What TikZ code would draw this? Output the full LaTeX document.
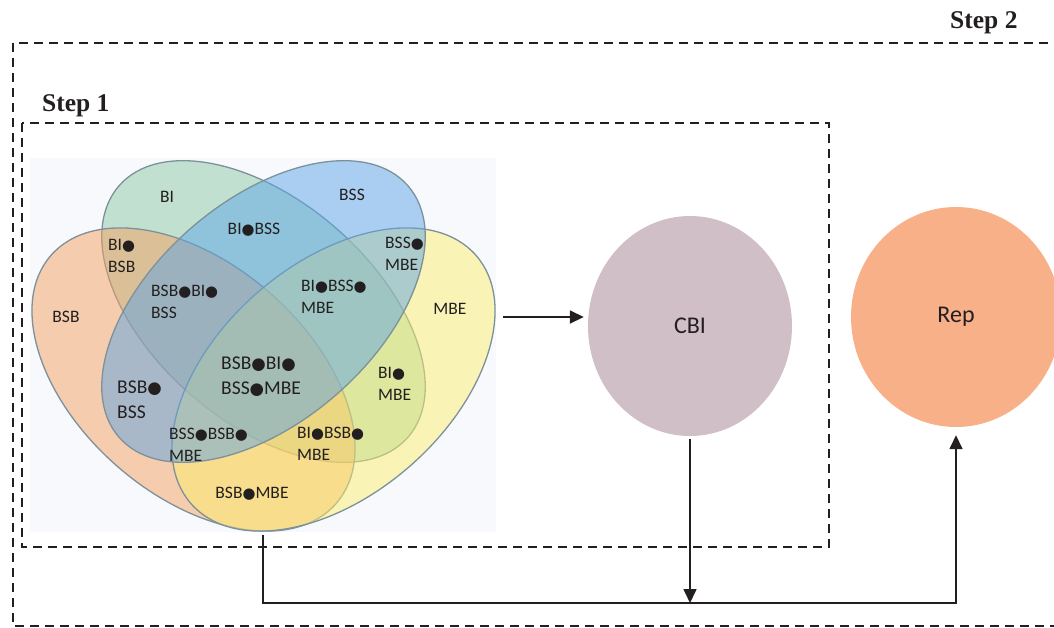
\documentclass[tikz,border=0pt]{standalone}
\usepackage{fontspec}
\setmainfont{Carlito}
\newfontfamily\stepfont{Liberation Serif}
\newfontfamily\dotfont{DejaVu Sans}
\usetikzlibrary{shapes.geometric,arrows.meta}

\definecolor{bicol}{RGB}{140,200,165}
\definecolor{bsbcol}{RGB}{245,160,95}
\definecolor{mbecol}{RGB}{252,238,110}
\definecolor{bsscol}{RGB}{95,165,230}
\definecolor{setline}{RGB}{125,145,155}
\definecolor{vennbg}{RGB}{247,249,253}
\definecolor{cbicol}{RGB}{209,191,199}
\definecolor{repcol}{RGB}{248,176,137}
\definecolor{txt}{RGB}{35,31,32}

\newcommand{\dt}{{\dotfont\scalebox{0.85}{●}}}

\begin{document}
\begin{tikzpicture}[x=1pt,y=-1pt,>={Triangle[length=14pt,width=13pt]},
  vset/.style={ellipse,draw=setline,line width=1.3pt,fill opacity=0.5,inner sep=0pt},
  lbl/.style={inner sep=0pt,align=left,text=txt,font=\fontsize{17.5}{22}\selectfont},
  biglbl/.style={lbl,font=\fontsize{19.5}{25}\selectfont},
  stepframe/.style={draw=txt,line width=1.8pt,dash pattern=on 9pt off 6pt},
  steplbl/.style={inner sep=0pt,anchor=base west,text=txt,font=\stepfont\bfseries\fontsize{25.5}{29}\selectfont},
  blob/.style={ellipse,inner sep=0pt,text=txt,font=\fontsize{24}{28}\selectfont},
  flow/.style={->,draw=txt,line width=1.6pt}]
  \useasboundingbox (0,0) rectangle (1054,627);

  % the two steps
  \draw[stepframe] (13,43) rectangle (1080,626);
  \draw[stepframe] (22,123) rectangle (829,547);
  \node[steplbl] (step2) at (950,28) {Step 2};
  \node[steplbl] (step1) at (42,111) {Step 1};

  % venn of the four indices
  \node[fill=vennbg,inner sep=0pt,minimum width=466pt,minimum height=374pt] (venn) at (263,345) {};
  \node[vset,fill=bicol,minimum width=383pt,minimum height=221pt,rotate=-41] (bi) at (263.5,311.5) {};
  \node[vset,fill=bsbcol,minimum width=378pt,minimum height=231pt,rotate=-41] (bsb) at (193.5,379.5) {};
  \node[vset,fill=mbecol,minimum width=378pt,minimum height=231pt,rotate=41] (mbe) at (333.5,379.5) {};
  \node[vset,fill=bsscol,minimum width=383pt,minimum height=221pt,rotate=41] (bss) at (263.5,311.5) {};

  \node[lbl] (lbi) at (167,197) {BI};
  \node[lbl] (lbss) at (352,195) {BSS};
  \node[lbl] (lbibss) at (254,230) {BI\dt BSS};
  \node[lbl,anchor=west] (lbibsb) at (108,256) {BI\dt\\BSB};
  \node[lbl,anchor=west] (lbssmbe) at (385,254) {BSS\dt\\MBE};
  \node[lbl] (lbsb) at (66,317) {BSB};
  \node[lbl] (lmbe) at (450,309) {MBE};
  \node[lbl,anchor=west] (lbsbbibss) at (151,302) {BSB\dt BI\dt\\BSS};
  \node[lbl,anchor=west] (lbibssmbe) at (301,297) {BI\dt BSS\dt\\MBE};
  \node[biglbl,anchor=west] (lall) at (221,377) {BSB\dt BI\dt\\BSS\dt MBE};
  \node[biglbl,anchor=west] (lbsbbss) at (117,400) {BSB\dt\\BSS};
  \node[lbl,anchor=west] (lbimbe) at (378,384) {BI\dt\\MBE};
  \node[lbl,anchor=west] (lbssbsbmbe) at (169,445) {BSS\dt BSB\dt\\MBE};
  \node[lbl,anchor=west] (lbibsbmbe) at (297,444) {BI\dt BSB\dt\\MBE};
  \node[lbl] (lbsbmbe) at (252,494) {BSB\dt MBE};

  % composite index and replication
  \node[blob,fill=cbicol,minimum width=204pt,minimum height=220pt] (cbi) at (690,326) {CBI};
  \node[blob,fill=repcol,minimum width=210pt,minimum height=220pt] (rep) at (956,317) {Rep};
  \coordinate (busR) at (rep.south |- 0,603);

  \draw[flow,shorten >=4pt] ([xshift=7pt,yshift=28pt]venn.east) -- ([yshift=9pt]cbi.west);
  \draw[flow] ([yshift=-3pt]cbi.south) -- (cbi.south |- busR);
  \draw[flow] ([yshift=-3pt]venn.south) |- (busR) -- ([yshift=-8pt]rep.south);
\end{tikzpicture}
\end{document}
